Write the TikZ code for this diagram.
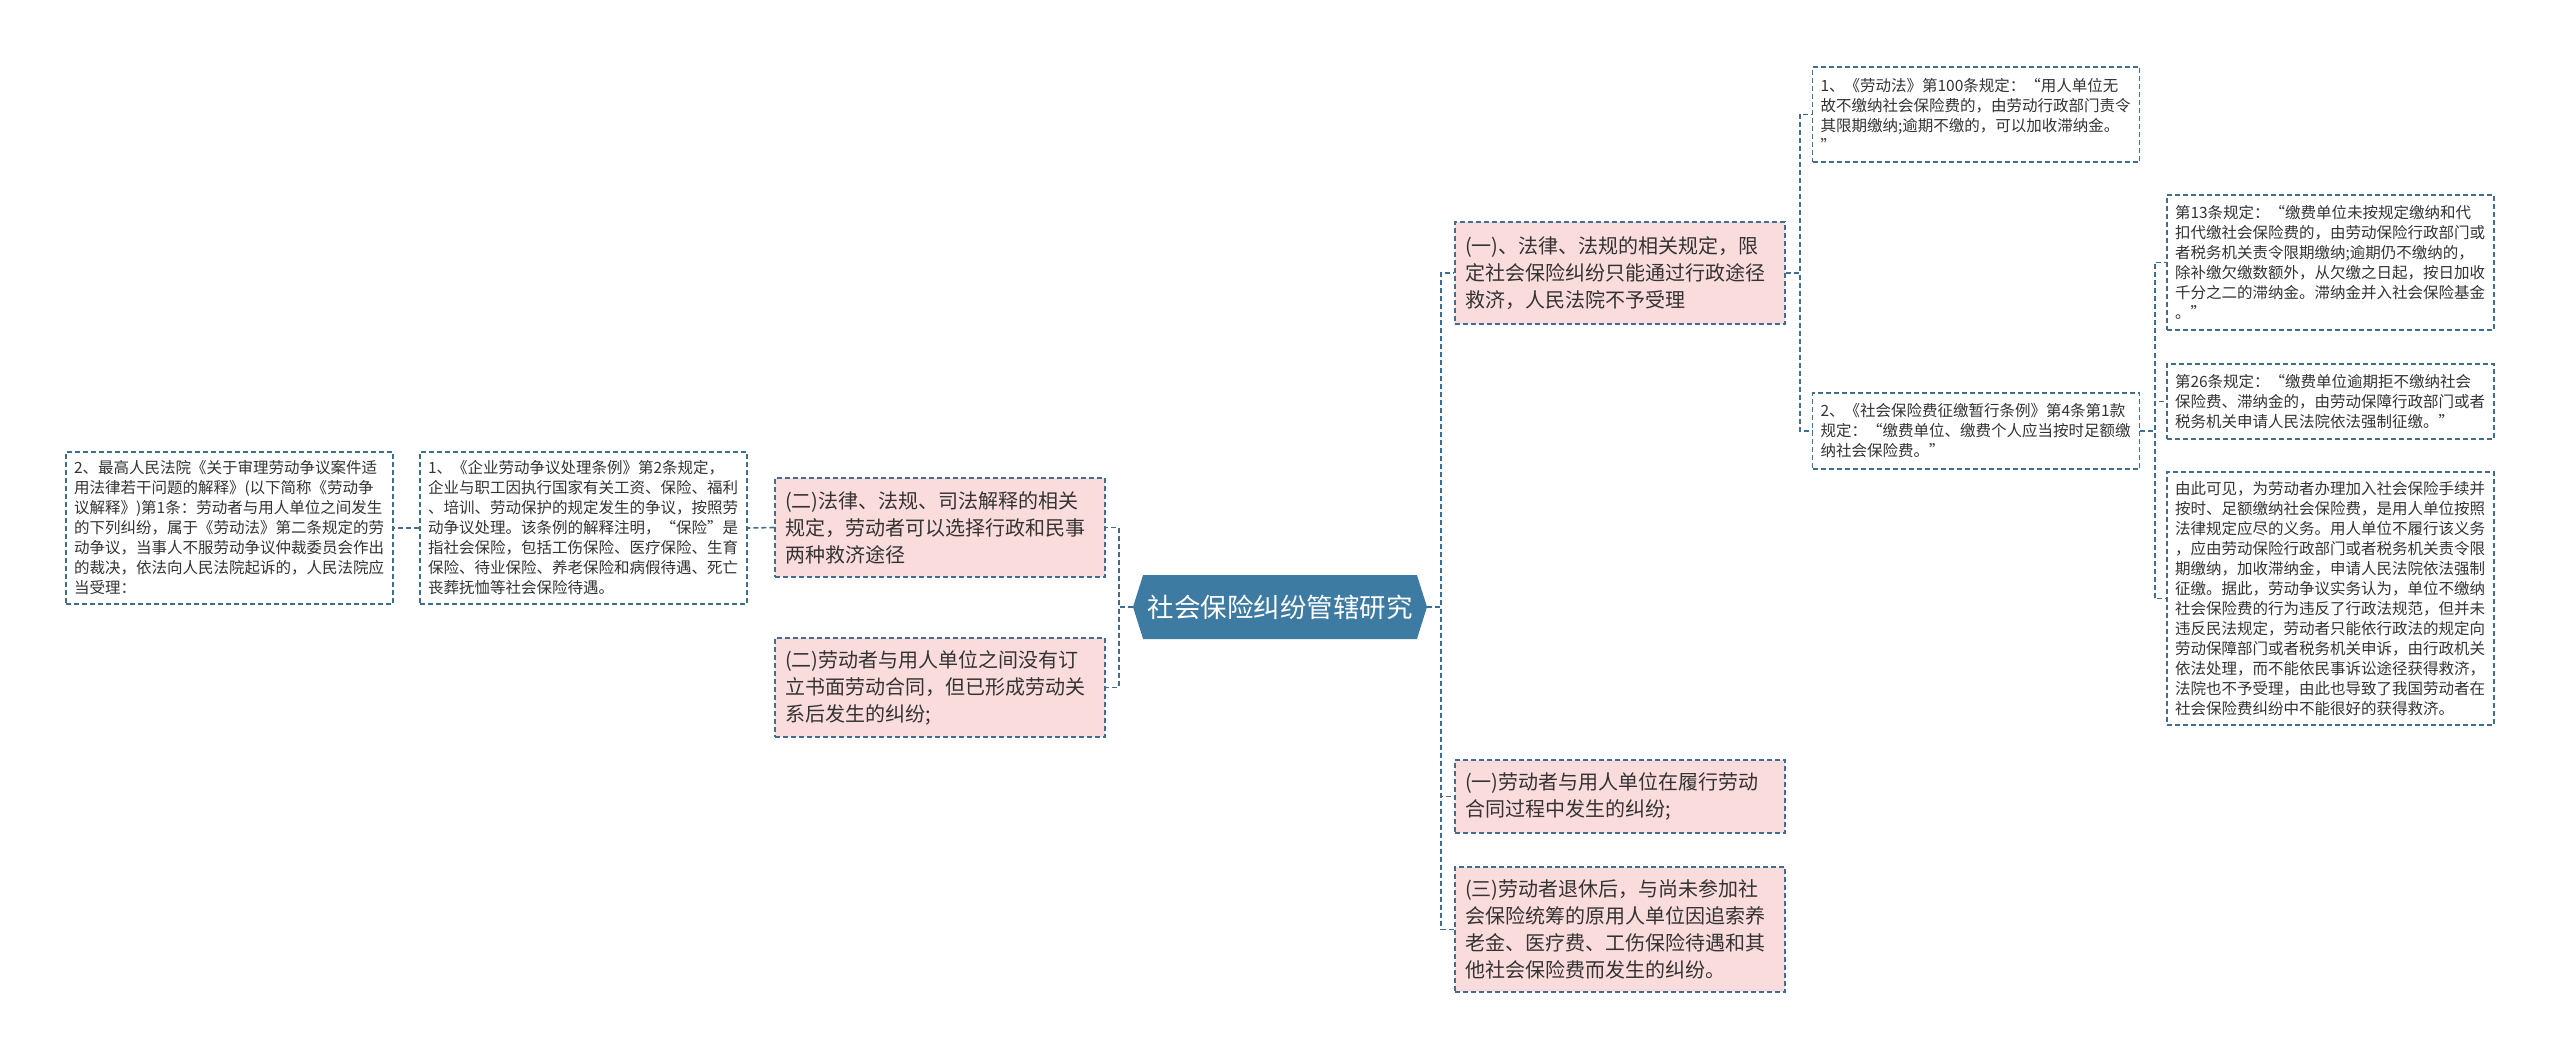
\documentclass[tikz,border=0pt]{standalone}
\usepackage{fontspec}
\setmainfont{Noto Sans CJK SC}
\usetikzlibrary{shapes.symbols}
\definecolor{linkblue}{HTML}{416D8E}
\definecolor{rootblue}{HTML}{3E7BA3}
\definecolor{notepink}{HTML}{FBDCDC}
\definecolor{textgray}{HTML}{333333}

\begin{document}
\begin{tikzpicture}[x=1pt, y=-1pt,
		topic/.style={signal, signal to=west and east, signal pointer angle=145, fill=rootblue, text=white, minimum width=294pt, minimum height=64pt, inner sep=0pt, font=\fontsize{26.5}{30}\selectfont},
		branch/.style={rectangle, draw=linkblue, fill=notepink, dash pattern=on 5pt off 3pt, line width=1.4pt, text=textgray, inner xsep=10pt, inner ysep=0pt, text width=310pt, align=left, font=\fontsize{20}{27}\selectfont},
		note/.style={rectangle, draw=linkblue, dash pattern=on 5pt off 3pt, line width=1.4pt, text=textgray, inner xsep=8pt, inner ysep=0pt, text width=311pt, align=left, font=\fontsize{15.5}{20}\selectfont},
		link/.style={draw=linkblue, dash pattern=on 5pt off 3pt, line width=1.6pt}
	]
		\useasboundingbox (0,0) rectangle (2560,1059);
		\fill[white] (0,0) rectangle (2560,1059);

		% Root
		\node[topic] (root) at (1280,607) {社会保险纠纷管辖研究};

		% Left branches
		\node[branch, minimum height=99pt] (lawleft) at (940,527.5) {(二)法律、法规、司法解释的相关\\规定，劳动者可以选择行政和民事\\两种救济途径};
		\node[branch, minimum height=99pt] (nocontract) at (940,687.5) {(二)劳动者与用人单位之间没有订\\立书面劳动合同，但已形成劳动关\\系后发生的纠纷;};
		\node[note, minimum height=152pt] (regulation) at (583.5,528) {1、《企业劳动争议处理条例》第2条规定，\\企业与职工因执行国家有关工资、保险、福利\\、培训、劳动保护的规定发生的争议，按照劳\\动争议处理。该条例的解释注明，“保险”是\\指社会保险，包括工伤保险、医疗保险、生育\\保险、待业保险、养老保险和病假待遇、死亡\\丧葬抚恤等社会保险待遇。};
		\node[note, minimum height=152pt] (court) at (229.5,528) {2、最高人民法院《关于审理劳动争议案件适\\用法律若干问题的解释》(以下简称《劳动争\\议解释》)第1条：劳动者与用人单位之间发生\\的下列纠纷，属于《劳动法》第二条规定的劳\\动争议，当事人不服劳动争议仲裁委员会作出\\的裁决，依法向人民法院起诉的，人民法院应\\当受理：};

		% Right branches
		\node[branch, minimum height=102pt] (lawright) at (1620,273) {(一)、法律、法规的相关规定，限\\定社会保险纠纷只能通过行政途径\\救济，人民法院不予受理};
		\node[branch, minimum height=73pt] (contract) at (1620,796.5) {(一)劳动者与用人单位在履行劳动\\合同过程中发生的纠纷;};
		\node[branch, minimum height=125pt] (retired) at (1620,929.5) {(三)劳动者退休后，与尚未参加社\\会保险统筹的原用人单位因追索养\\老金、医疗费、工伤保险待遇和其\\他社会保险费而发生的纠纷。};

		% Notes
		\node[note, minimum height=95pt] (labourlaw) at (1976,114.5) {1、《劳动法》第100条规定：“用人单位无\\故不缴纳社会保险费的，由劳动行政部门责令\\其限期缴纳;逾期不缴的，可以加收滞纳金。\\”};
		\node[note, minimum height=76pt] (levy) at (1976,431) {2、《社会保险费征缴暂行条例》第4条第1款\\规定：“缴费单位、缴费个人应当按时足额缴\\纳社会保险费。”};
		\node[note, minimum height=135pt] (art13) at (2330.5,262.5) {第13条规定：“缴费单位未按规定缴纳和代\\扣代缴社会保险费的，由劳动保险行政部门或\\者税务机关责令限期缴纳;逾期仍不缴纳的，\\除补缴欠缴数额外，从欠缴之日起，按日加收\\千分之二的滞纳金。滞纳金并入社会保险基金\\。”};
		\node[note, minimum height=75pt] (art26) at (2330.5,401.5) {第26条规定：“缴费单位逾期拒不缴纳社会\\保险费、滞纳金的，由劳动保障行政部门或者\\税务机关申请人民法院依法强制征缴。”};
		\node[note, minimum height=253pt] (summary) at (2330.5,598.5) {由此可见，为劳动者办理加入社会保险手续并\\按时、足额缴纳社会保险费，是用人单位按照\\法律规定应尽的义务。用人单位不履行该义务\\，应由劳动保险行政部门或者税务机关责令限\\期缴纳，加收滞纳金，申请人民法院依法强制\\征缴。据此，劳动争议实务认为，单位不缴纳\\社会保险费的行为违反了行政法规范，但并未\\违反民法规定，劳动者只能依行政法的规定向\\劳动保障部门或者税务机关申诉，由行政机关\\依法处理，而不能依民事诉讼途径获得救济，\\法院也不予受理，由此也导致了我国劳动者在\\社会保险费纠纷中不能很好的获得救济。};

		% Links
		\draw[link] (root.west) -- ++(-14,0) |- (lawleft.east);
		\draw[link] (root.west) -- ++(-14,0) |- (nocontract.east);
		\draw[link] (lawleft.west) -- (regulation.east);
		\draw[link] (regulation.west) -- (court.east);
		\draw[link] (root.east) -- ++(14,0) |- (lawright.west);
		\draw[link] (root.east) -- ++(14,0) |- (contract.west);
		\draw[link] (root.east) -- ++(14,0) |- (retired.west);
		\draw[link] (lawright.east) -- ++(14,0) |- (labourlaw.west);
		\draw[link] (lawright.east) -- ++(14,0) |- (levy.west);
		\draw[link] (levy.east) -- ++(14.5,0) |- (art13.west);
		\draw[link] (levy.east) -- ++(14.5,0) |- (art26.west);
		\draw[link] (levy.east) -- ++(14.5,0) |- (summary.west);
	\end{tikzpicture}
\end{document}
